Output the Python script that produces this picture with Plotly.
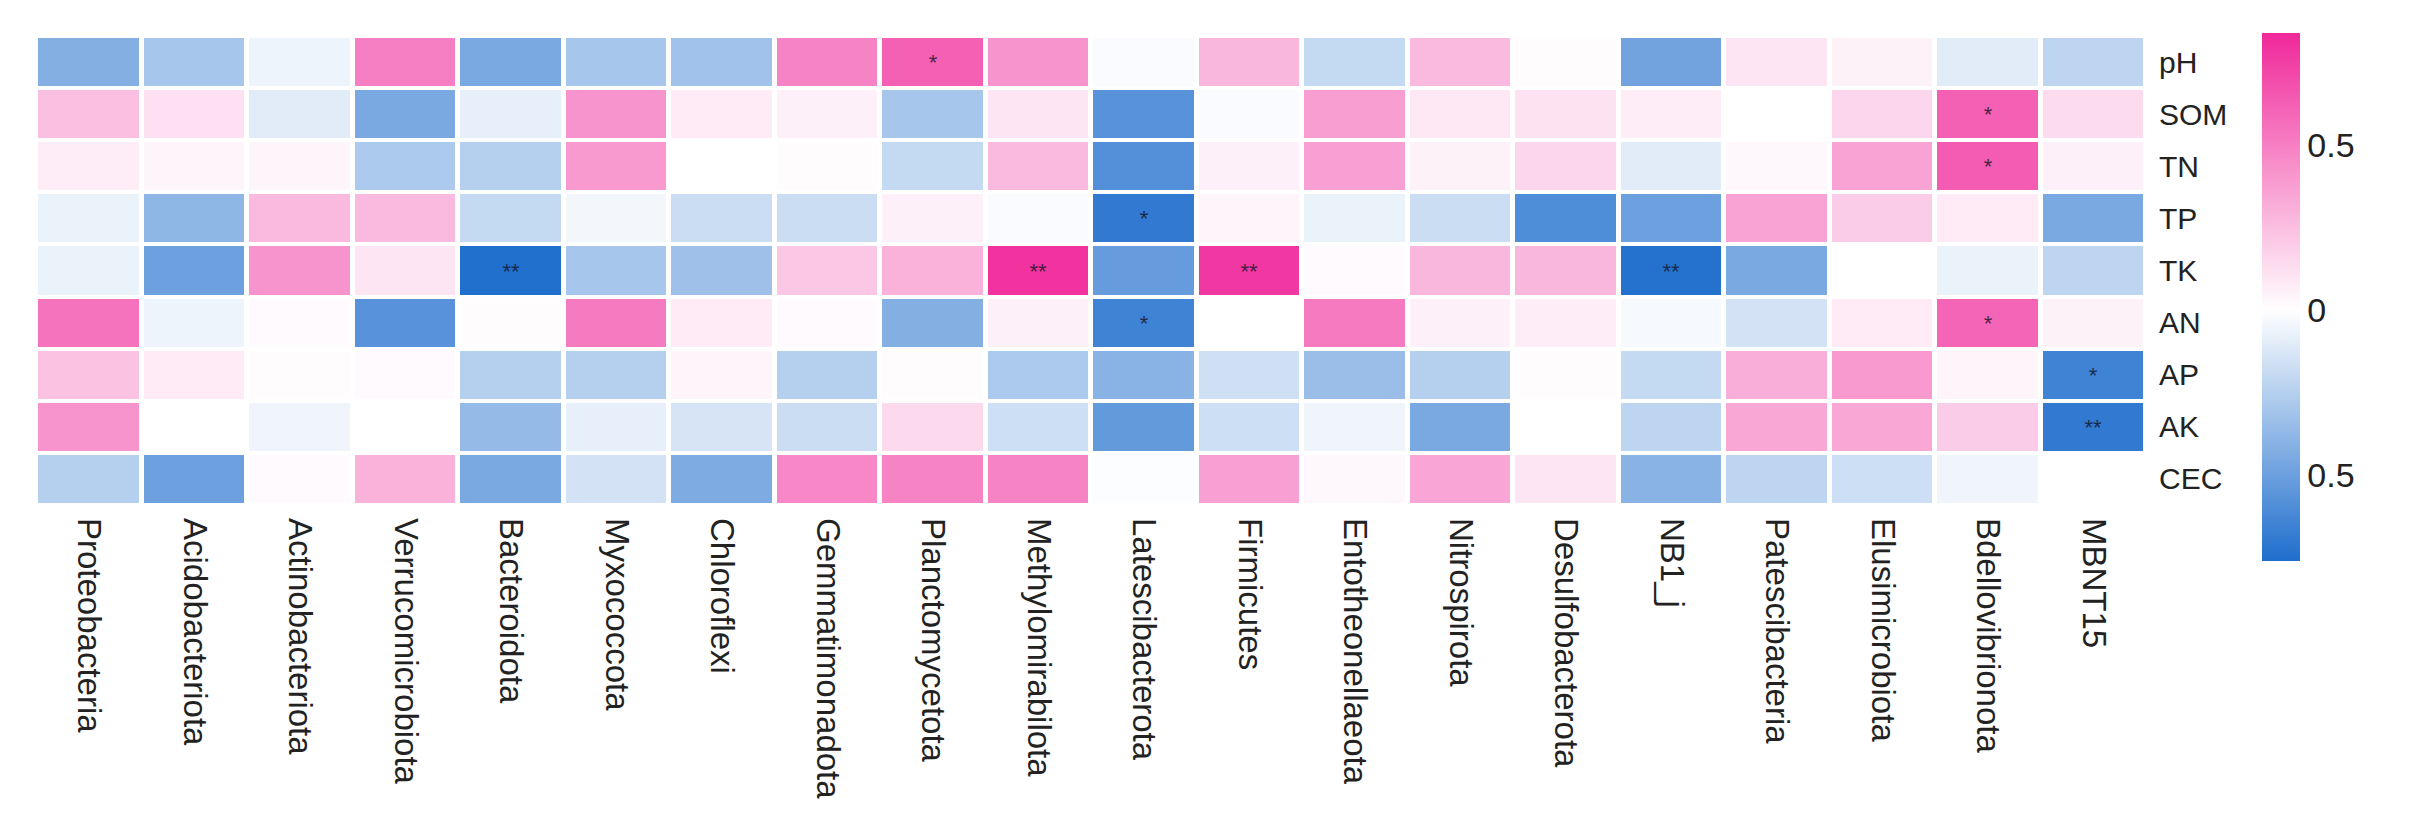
import plotly.graph_objects as go

phyla = ["Proteobacteria", "Acidobacteriota", "Actinobacteriota", "Verrucomicrobiota",
         "Bacteroidota", "Myxococcota", "Chloroflexi", "Gemmatimonadota", "Planctomycetota",
         "Methylomirabilota", "Latescibacterota", "Firmicutes", "Entotheonellaeota",
         "Nitrospirota", "Desulfobacterota", "NB1_j", "Patescibacteria", "Elusimicrobiota",
         "Bdellovibrionota", "MBNT15"]
factors = ["pH", "SOM", "TN", "TP", "TK", "AN", "AP", "AK", "CEC"]

# correlation values, one list per soil factor (columns follow phyla order)
r_pH = [-0.42, -0.30, -0.06, 0.50, -0.45, -0.30, -0.32, 0.48, 0.62, 0.42,
        -0.02, 0.28, -0.20, 0.27, 0.01, -0.48, 0.10, 0.05, -0.10, -0.22]
r_SOM = [0.25, 0.12, -0.10, -0.45, -0.08, 0.42, 0.08, 0.06, -0.30, 0.10,
         -0.57, -0.02, 0.38, 0.09, 0.11, 0.07, 0.00, 0.16, 0.62, 0.14]
r_TN = [0.07, 0.04, 0.04, -0.28, -0.25, 0.40, 0.00, 0.01, -0.20, 0.27,
        -0.58, 0.06, 0.37, 0.05, 0.16, -0.10, 0.03, 0.36, 0.64, 0.06]
r_TP = [-0.07, -0.38, 0.27, 0.27, -0.20, -0.04, -0.18, -0.18, 0.06, -0.02,
        -0.70, 0.04, -0.07, -0.18, -0.60, -0.50, 0.36, 0.20, 0.08, -0.45]
r_TK = [-0.07, -0.50, 0.42, 0.10, -0.75, -0.30, -0.33, 0.22, 0.30, 0.80,
        -0.52, 0.78, 0.02, 0.28, 0.28, -0.74, -0.45, 0.00, -0.07, -0.22]
r_AN = [0.55, -0.06, 0.02, -0.57, 0.01, 0.52, 0.08, 0.02, -0.42, 0.06,
        -0.65, 0.00, 0.52, 0.06, 0.07, -0.03, -0.15, 0.08, 0.60, 0.05]
r_AP = [0.24, 0.08, 0.01, 0.02, -0.25, -0.25, 0.04, -0.25, 0.01, -0.28,
        -0.40, -0.16, -0.34, -0.25, 0.01, -0.20, 0.32, 0.40, 0.04, -0.65]
r_AK = [0.42, 0.00, -0.05, 0.00, -0.36, -0.08, -0.14, -0.18, 0.15, -0.17,
        -0.53, -0.17, -0.05, -0.45, 0.00, -0.22, 0.34, 0.34, 0.20, -0.70]
r_CEC = [-0.25, -0.50, 0.02, 0.30, -0.45, -0.15, -0.44, 0.47, 0.48, 0.48,
         -0.01, 0.37, 0.03, 0.35, 0.10, -0.40, -0.22, -0.17, -0.05, 0.00]

# significance marks
sig_pH = [""] * 8 + ["*"] + [""] * 11
sig_SOM = [""] * 18 + ["*", ""]
sig_TN = [""] * 18 + ["*", ""]
sig_TP = [""] * 10 + ["*"] + [""] * 9
sig_TK = ["", "", "", "", "**", "", "", "", "", "**", "", "**", "", "", "", "**", "", "", "", ""]
sig_AN = [""] * 10 + ["*"] + [""] * 7 + ["*", ""]
sig_AP = [""] * 19 + ["*"]
sig_AK = [""] * 19 + ["**"]
sig_CEC = [""] * 20

z = [r_pH, r_SOM, r_TN, r_TP, r_TK, r_AN, r_AP, r_AK, r_CEC]
marks = [sig_pH, sig_SOM, sig_TN, sig_TP, sig_TK, sig_AN, sig_AP, sig_AK, sig_CEC]

zmin, zmax = -0.76, 0.84
mid = -zmin / (zmax - zmin)

fig = go.Figure(go.Heatmap(
    z=z, x=phyla, y=factors, text=marks, texttemplate="%{text}",
    textfont=dict(size=22, color="rgba(20,20,40,0.8)"),
    zmin=zmin, zmax=zmax,
    colorscale=[[0, "#1F6ECD"], [mid, "#FFFFFF"], [1, "#F0289A"]],
    xgap=5, ygap=4,
    colorbar=dict(
        x=1.055, xanchor="left", xpad=0,
        y=0.4435, yanchor="middle", ypad=0,
        len=528, lenmode="pixels", thickness=38,
        outlinewidth=0, ticks="",
        tickvals=[-0.5, 0, 0.5], ticktext=["0.5", "0", "0.5"],
        tickfont=dict(size=34, color="#222"),
    ),
))

fig.update_layout(
    width=2410, height=834,
    margin=dict(l=28, r=272, t=28, b=337),
    paper_bgcolor="white", plot_bgcolor="white",
    font=dict(family="Liberation Sans, Arial", color="#222"),
    xaxis=dict(tickangle=90, tickfont=dict(size=33), showgrid=False, zeroline=False,
               ticks="", ticklabelstandoff=12, automargin=False),
    yaxis=dict(autorange="reversed", side="right", tickfont=dict(size=30),
               showgrid=False, zeroline=False, ticks="", ticklabelstandoff=12,
               automargin=False),
)

fig.write_html("out.html")
